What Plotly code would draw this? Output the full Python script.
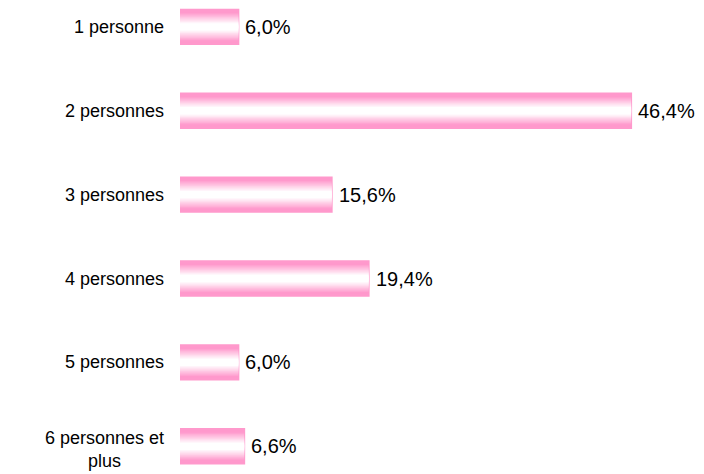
import plotly.graph_objects as go

categories = ["1 personne", "2 personnes", "3 personnes", "4 personnes", "5 personnes", "6 personnes et<br>plus"]
values = [6.0, 46.4, 15.6, 19.4, 6.0, 6.6]
labels = ["6,0%", "46,4%", "15,6%", "19,4%", "6,0%", "6,6%"]

pos = list(range(len(categories)))
PINK = (255, 153, 204)
BAR_W = 0.41
N = 14
FONT = "Liberation Sans, Arial"

fig = go.Figure()
fig.add_trace(go.Bar(x=values, y=pos, orientation="h", width=BAR_W,
                     marker=dict(color="rgb(255,153,204)", line=dict(color="rgb(255,153,204)", width=2)),
                     hoverinfo="skip"))
for k in range(1, N):
    t = 1 - k / N
    f = min(1.0, max(0.0, (t - 0.22) / (0.85 - 0.22)))
    c = tuple(round(255 + (p - 255) * f) for p in PINK)
    fig.add_trace(go.Bar(x=values, y=pos, orientation="h", width=BAR_W * t,
                         marker=dict(color=f"rgb{c}", line=dict(width=0)),
                         hoverinfo="skip"))

for v, p, lab in zip(values, pos, labels):
    fig.add_annotation(x=v, xref="x", y=p, yref="y", text=lab, showarrow=False,
                       xanchor="left", xshift=5,
                       font=dict(family=FONT, size=20, color="#000"))

for p, c in zip(pos, categories):
    fig.add_annotation(x=0, xref="paper", y=p, yref="y", text=c, showarrow=False,
                       xanchor="right", align="center", xshift=-14,
                       yshift=-3 if "<br>" in c else 0,
                       font=dict(family=FONT, size=18, color="#000"))

fig.update_layout(
    width=704, height=474, barmode="overlay", showlegend=False,
    margin=dict(l=180, r=0, t=0, b=0),
    plot_bgcolor="white", paper_bgcolor="white",
    xaxis=dict(range=[0, 53.9], visible=False),
    yaxis=dict(range=[5.33, -0.32], visible=False),
)
fig.write_html("out.html", config={"displayModeBar": False},
               post_script="document.body.style.margin='0';")
